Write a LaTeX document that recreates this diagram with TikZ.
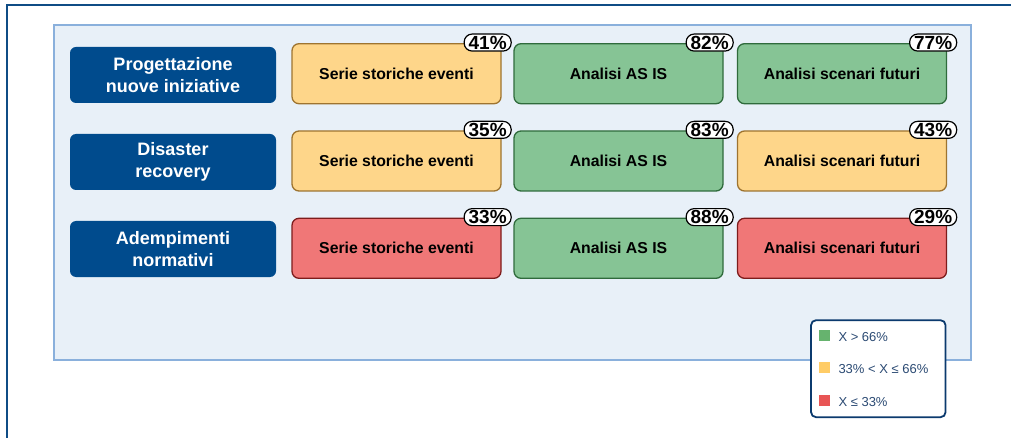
\documentclass[tikz,border=0pt]{standalone}
\usepackage{fontspec}
\setmainfont{Liberation Sans}
\definecolor{frameblue}{HTML}{0F4C85}
\definecolor{panelfill}{HTML}{E8F0F8}
\definecolor{paneledge}{HTML}{8AB0DC}
\definecolor{headblue}{HTML}{004B8D}
\definecolor{goodfill}{HTML}{86C495}
\definecolor{gooddraw}{HTML}{2F6B3C}
\definecolor{midfill}{HTML}{FED68A}
\definecolor{middraw}{HTML}{9E7430}
\definecolor{badfill}{HTML}{F07777}
\definecolor{baddraw}{HTML}{7E1C1C}
\definecolor{legendedge}{HTML}{0B3A6E}
\definecolor{legendtext}{HTML}{2C4B74}
\definecolor{keygreen}{HTML}{66B36E}
\definecolor{keyyellow}{HTML}{FFCC66}
\definecolor{keyred}{HTML}{E85555}
\begin{document}
\begin{tikzpicture}[x=1pt,y=-1pt,
  rowhead/.style={fill=headblue, rounded corners=6pt, minimum width=206pt,
    minimum height=56pt, text=white, align=center,
    font=\fontsize{18}{22}\selectfont\bfseries},
  cell/.style={rounded corners=7pt, line width=1.3pt, minimum width=209pt,
    minimum height=60pt, font=\fontsize{15.8}{18}\selectfont\bfseries},
  good/.style={cell, fill=goodfill, draw=gooddraw},
  mid/.style={cell, fill=midfill, draw=middraw},
  bad/.style={cell, fill=badfill, draw=baddraw},
  badge/.style={fill=white, draw=black, line width=1.2pt, rounded corners=8pt,
    minimum width=47pt, minimum height=17pt, inner sep=0pt,
    font=\fontsize{19}{18}\selectfont\bfseries},
  keysq/.style={minimum size=11pt, inner sep=0pt},
  keytext/.style={anchor=west, inner sep=0pt, text=legendtext,
    font=\fontsize{13}{15}\selectfont}]
\useasboundingbox (0,0) rectangle (1011,438);
% page frame, partly off the edges
\begin{scope}
  \clip (0,0) rectangle (1011,438);
  \draw[frameblue, line width=2.6pt] (7,5) rectangle (1030,460);
\end{scope}
% panel
\draw[fill=panelfill, draw=paneledge, line width=1.3pt] (54,25) rectangle (971,360);

% row headers
\node[rowhead] (h1) at (173,75) {Progettazione\\nuove iniziative};
\node[rowhead] (h2) at (173,162) {Disaster\\recovery};
\node[rowhead] (h3) at (173,249) {Adempimenti\\normativi};

% cells
\node[mid]  (c11) at (396.5,73.7) {Serie storiche eventi};
\node[good] (c12) at (618.5,73.7) {Analisi AS IS};
\node[good] (c13) at (842,73.7) {Analisi scenari futuri};
\node[mid]  (c21) at (396.5,161) {Serie storiche eventi};
\node[good] (c22) at (618.5,161) {Analisi AS IS};
\node[mid]  (c23) at (842,161) {Analisi scenari futuri};
\node[bad]  (c31) at (396.5,248.3) {Serie storiche eventi};
\node[good] (c32) at (618.5,248.3) {Analisi AS IS};
\node[bad]  (c33) at (842,248.3) {Analisi scenari futuri};

% percentage badges
\foreach \c/\p in {c11/41, c12/82, c13/77, c21/35, c22/83, c23/43, c31/33, c32/88, c33/29}
  \node[badge] (b\c) at ([xshift=-14pt,yshift=0.5pt]\c.north east) {\p\%};

% legend
\node[draw=legendedge, fill=white, line width=1.8pt, rounded corners=5pt,
  minimum width=134.5pt, minimum height=97pt] (legend) at (878.3,368.7) {};
\node[keysq, fill=keygreen] (k1) at (824.5,335.5) {};
\node[keysq, fill=keyyellow] (k2) at (824.5,367.5) {};
\node[keysq, fill=keyred] (k3) at (824.5,400.3) {};
\node[keytext] (t1) at (838.3,337) {X > 66\%};
\node[keytext] (t2) at (838.3,369) {33\% < X ≤ 66\%};
\node[keytext] (t3) at (838.3,401.8) {X ≤ 33\%};
\end{tikzpicture}
\end{document}
